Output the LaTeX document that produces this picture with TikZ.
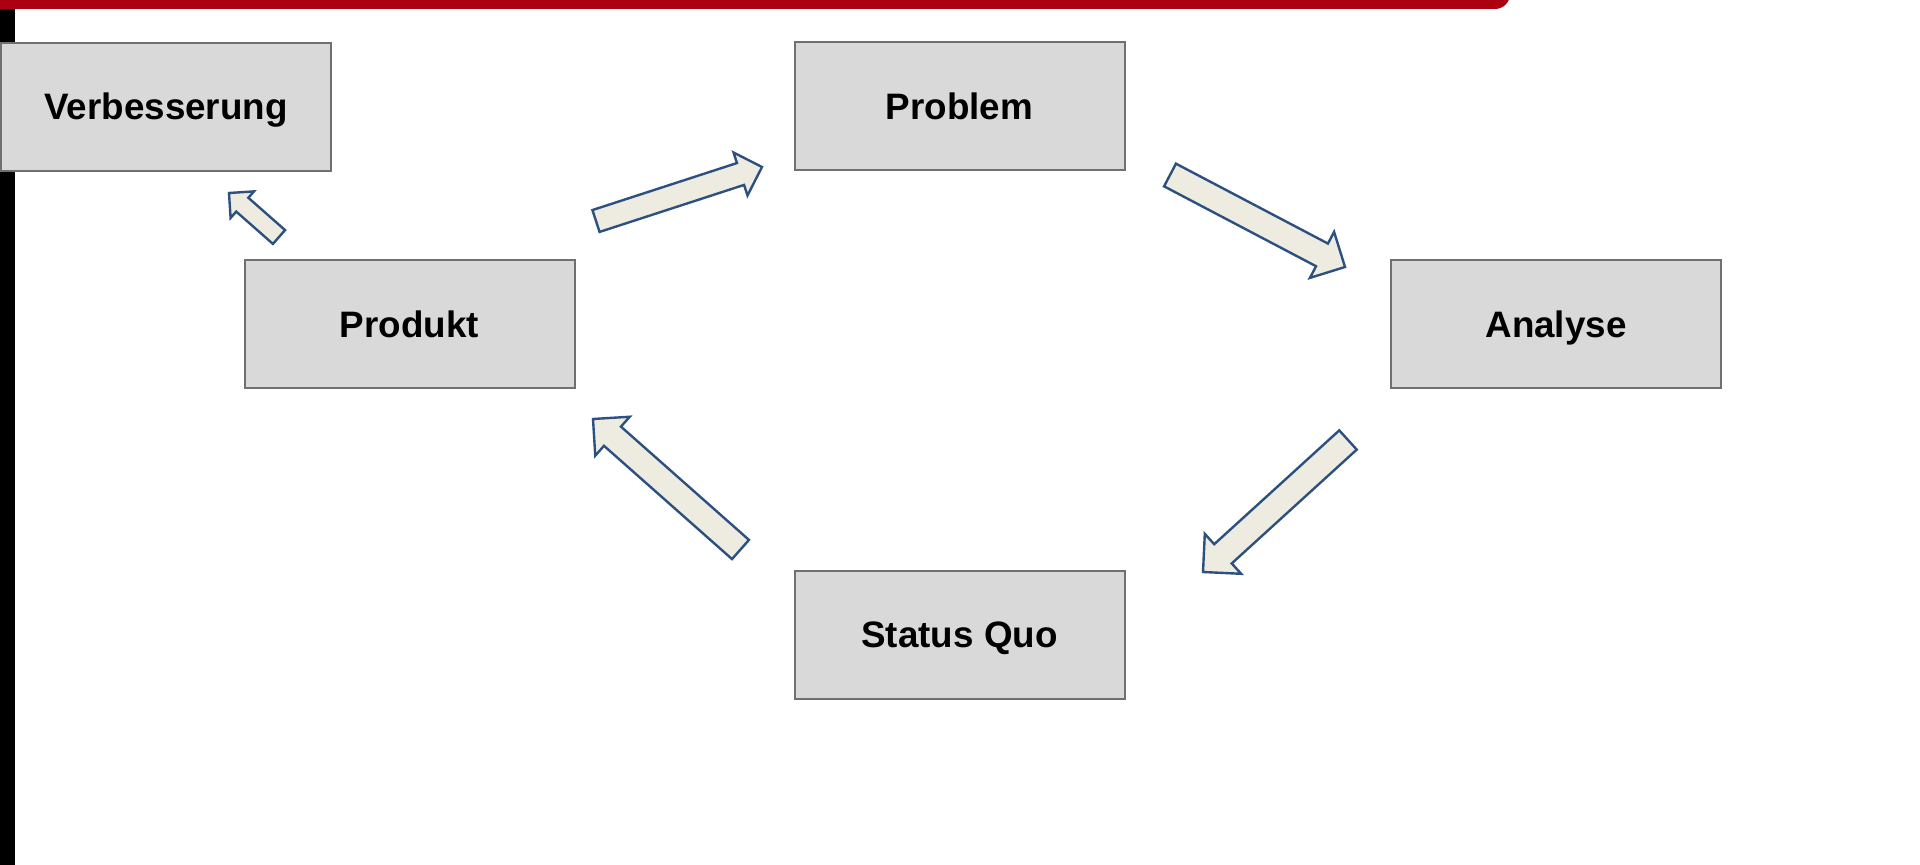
\documentclass[tikz,border=0pt]{standalone}
\usepackage{fontspec}
\setmainfont{Liberation Sans}
\usetikzlibrary{calc}
\definecolor{barred}{RGB}{170,0,17}
\definecolor{boxfill}{RGB}{217,217,217}
\definecolor{boxline}{RGB}{112,112,112}
\definecolor{arrowfill}{RGB}{238,236,225}
\definecolor{arrowline}{RGB}{44,80,128}

\begin{document}
\begin{tikzpicture}[x=0.5pt,y=-0.5pt,
box/.style={draw=boxline,fill=boxfill,line width=1pt,minimum width=165pt,minimum height=64pt,inner sep=0pt,text height=13pt,text depth=0pt,font=\bfseries\fontsize{18.4}{22}\selectfont},
blockarrow/.style={draw=arrowline,fill=arrowfill,line width=1.2pt,line join=miter}]
\clip (0,0) rectangle (1920,865);
\fill[barred,rounded corners=7.5pt] (0,-20) rectangle (1510,9);
\fill[barred] (0,-20) rectangle (1400,9);
\fill[black] (0,9) rectangle (15,865);
\node[box] (verb) at (166,107) {Verbesserung};
\node[box] (problem) at (959.5,106.5) {Problem};
\node[box] (produkt) at (409.5,324.5) {Produkt};
\node[box] (analyse) at (1556,324.5) {Analyse};
\node[box] (status) at (959.5,634.5) {Status Quo};
\coordinate (pv1) at (279,237); \coordinate (pv2) at (229,193);
\coordinate (pp1) at (596,221); \coordinate (pp2) at (762,167);
\coordinate (pa1) at (1170,175); \coordinate (pa2) at (1345,267);
\coordinate (as1) at (1348,440); \coordinate (as2) at (1203,572);
\coordinate (sp1) at (740.5,549.5); \coordinate (sp2) at (593,419);
\foreach \tl/\hd/\sw/\hw in {pv1/pv2/4.6/8.85, pp1/pp2/5.75/11.3, pa1/pa2/6.4/13, as1/as2/6.5/13.5, sp1/sp2/6.4/13}
{\coordinate (hb) at ($(\hd)!\hw pt!(\tl)$);
\draw[blockarrow] ($(\tl)!\sw pt!90:(\hd)$) -- ($(hb)!\sw pt!90:(\hd)$) -- ($(hb)!\hw pt!90:(\hd)$) -- (\hd) -- ($(hb)!\hw pt!-90:(\hd)$) -- ($(hb)!\sw pt!-90:(\hd)$) -- ($(\tl)!\sw pt!-90:(\hd)$) -- cycle;}
\end{tikzpicture}
\end{document}
